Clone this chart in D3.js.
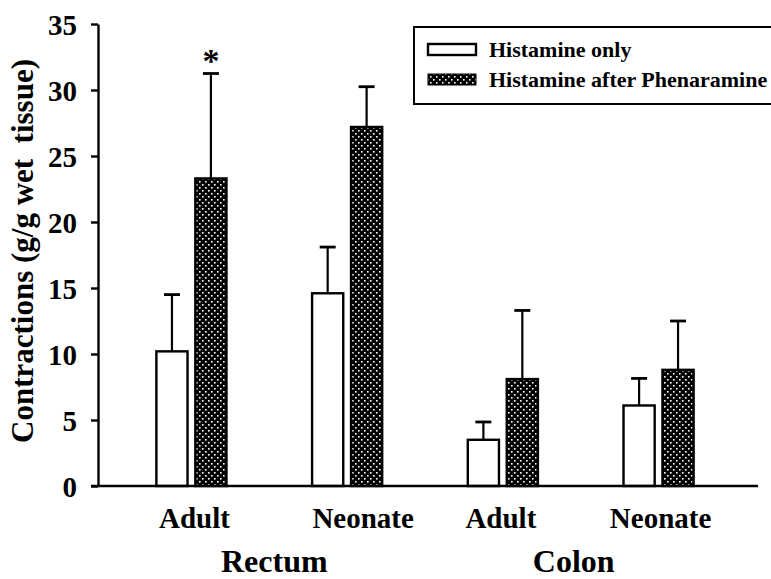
<!DOCTYPE html>
<html>
<head>
<meta charset="utf-8">
<script src="https://cdn.jsdelivr.net/npm/d3@7"></script>
<style>
  html, body { margin: 0; padding: 0; background: #fff; }
  svg { display: block; }
  text { font-family: "Liberation Serif", "Times New Roman", serif; font-weight: bold; fill: #000; }
</style>
</head>
<body>
<svg id="chart" width="771" height="579"></svg>
<script>
// ---- data ----
const categories = ["Adult", "Neonate", "Adult", "Neonate"];
const groups = ["Rectum", "Rectum", "Colon", "Colon"];
const seriesNames = ["Histamine only", "Histamine after Phenaramine"];
const histamineOnly = [10.2, 14.6, 3.5, 6.1];
const histamineOnlyErr = [4.3, 3.5, 1.35, 2.05];
const afterPhenaramine = [23.3, 27.2, 8.1, 8.8];
const afterPhenaramineErr = [7.95, 3.05, 5.2, 3.7];
const significant = [[0, 1]]; // [category index, series index]
const yTicks = [0, 5, 10, 15, 20, 25, 30, 35];
const yLabel = "Contractions (g/g wet  tissue)";

// ---- layout ----
const svg = d3.select("#chart");
const x0Left = 98, x0Right = 752, yTop = 24, yBottom = 486;

const keys = categories.map((c, i) => i);
const x0 = d3.scaleBand().domain(keys).range([x0Left, x0Right]).paddingInner(0.5).paddingOuter(0.35);
const x1 = d3.scaleBand().domain([0, 1]).range([-37, 37]).paddingInner(0.2).paddingOuter(0.05);
const y = d3.scaleLinear().domain([0, 35]).range([yBottom, yTop]);

// pattern
const defs = svg.append("defs");
const pat = defs.append("pattern").attr("id", "dots").attr("patternUnits", "userSpaceOnUse")
  .attr("width", 6).attr("height", 6);
pat.append("rect").attr("width", 6).attr("height", 6).attr("fill", "#000");
pat.append("rect").attr("x", 1).attr("y", 1).attr("width", 1.6).attr("height", 1.6).attr("fill", "#fff");
pat.append("rect").attr("x", 4).attr("y", 4).attr("width", 1.6).attr("height", 1.6).attr("fill", "#fff");

const series = [
  { vals: histamineOnly, errs: histamineOnlyErr, fill: "#fff" },
  { vals: afterPhenaramine, errs: afterPhenaramineErr, fill: "url(#dots)" }
];

const bars = [];
series.forEach((s, si) => {
  s.vals.forEach((v, ci) => bars.push({ ci, si, v, e: s.errs[ci], fill: s.fill }));
});

const cx = d => x0(d.ci) + x0.bandwidth() / 2 + x1(d.si) + x1.bandwidth() / 2;

// error bars (drawn first so bars cover stems)
const eb = svg.append("g");
eb.selectAll("line.stem").data(bars).join("line").attr("class", "stem")
  .attr("x1", cx).attr("x2", cx)
  .attr("y1", d => y(d.v)).attr("y2", d => y(d.v + d.e))
  .attr("stroke", "#000").attr("stroke-width", 2.2);
eb.selectAll("line.cap").data(bars).join("line").attr("class", "cap")
  .attr("x1", d => cx(d) - 8).attr("x2", d => cx(d) + 8)
  .attr("y1", d => y(d.v + d.e)).attr("y2", d => y(d.v + d.e))
  .attr("stroke", "#000").attr("stroke-width", 2.8);

// bars
svg.append("g").selectAll("rect").data(bars).join("rect")
  .attr("x", d => cx(d) - x1.bandwidth() / 2)
  .attr("width", x1.bandwidth())
  .attr("y", d => y(d.v))
  .attr("height", d => y(0) - y(d.v))
  .attr("fill", d => d.fill)
  .attr("stroke", "#000").attr("stroke-width", 2.4);

// significance star
significant.forEach(([ci, si]) => {
  const d = bars.find(b => b.ci === ci && b.si === si);
  svg.append("text").attr("x", cx(d)).attr("y", y(d.v + d.e) - 2)
    .attr("text-anchor", "middle").style("font-size", "34px").text("*");
});

// y axis
const yAxis = d3.axisLeft(y).tickValues(yTicks).tickSize(7).tickSizeOuter(0).tickPadding(14);
const gy = svg.append("g").attr("transform", `translate(${x0Left},0)`).call(yAxis);
gy.select(".domain").attr("stroke", "#000").attr("stroke-width", 2.4);
gy.selectAll(".tick line").attr("stroke", "#000").attr("stroke-width", 2.4);
gy.selectAll(".tick text").style("font-size", "29px").style("font-family", '"Liberation Serif", serif')
  .style("font-weight", "bold").attr("dy", "0.36em");

// x axis line
svg.append("line").attr("x1", x0Left - 7).attr("x2", 758).attr("y1", y(0)).attr("y2", y(0))
  .attr("stroke", "#000").attr("stroke-width", 2.4);

// category labels
const catNudge = [3, 16, -2, 2];
svg.append("g").selectAll("text").data(keys).join("text")
  .attr("x", i => x0(i) + x0.bandwidth() / 2 + catNudge[i])
  .attr("y", 528).attr("text-anchor", "middle").style("font-size", "29px")
  .text(i => categories[i]);

// group labels
const groupNames = Array.from(new Set(groups));
const groupNudge = [5, -7];
svg.append("g").selectAll("text").data(groupNames).join("text")
  .attr("x", (g, gi) => {
    const idx = keys.filter(i => groups[i] === g);
    return d3.mean(idx, i => x0(i) + x0.bandwidth() / 2) + groupNudge[gi];
  })
  .attr("y", 572).attr("text-anchor", "middle").style("font-size", "32px")
  .text(g => g);

// y label
svg.append("text").attr("transform", `translate(33,251) rotate(-90)`)
  .attr("text-anchor", "middle").style("font-size", "31px").style("white-space", "pre")
  .text(yLabel);

// legend
const lg = svg.append("g");
lg.append("rect").attr("x", 414).attr("y", 27).attr("width", 370).attr("height", 77)
  .attr("fill", "#fff").attr("stroke", "#000").attr("stroke-width", 2);
const legendRows = [0, 1];
lg.selectAll("rect.sw").data(legendRows).join("rect").attr("class", "sw")
  .attr("x", 428).attr("y", r => 44 + r * 30).attr("width", 48).attr("height", 11)
  .attr("fill", r => series[r].fill).attr("stroke", "#000").attr("stroke-width", r => r === 0 ? 2.4 : 1);
lg.selectAll("text.lt").data(legendRows).join("text").attr("class", "lt")
  .attr("x", 489).attr("y", r => 57 + r * 30).style("font-size", "22px")
  .text(r => seriesNames[r]);
</script>
</body>
</html>
